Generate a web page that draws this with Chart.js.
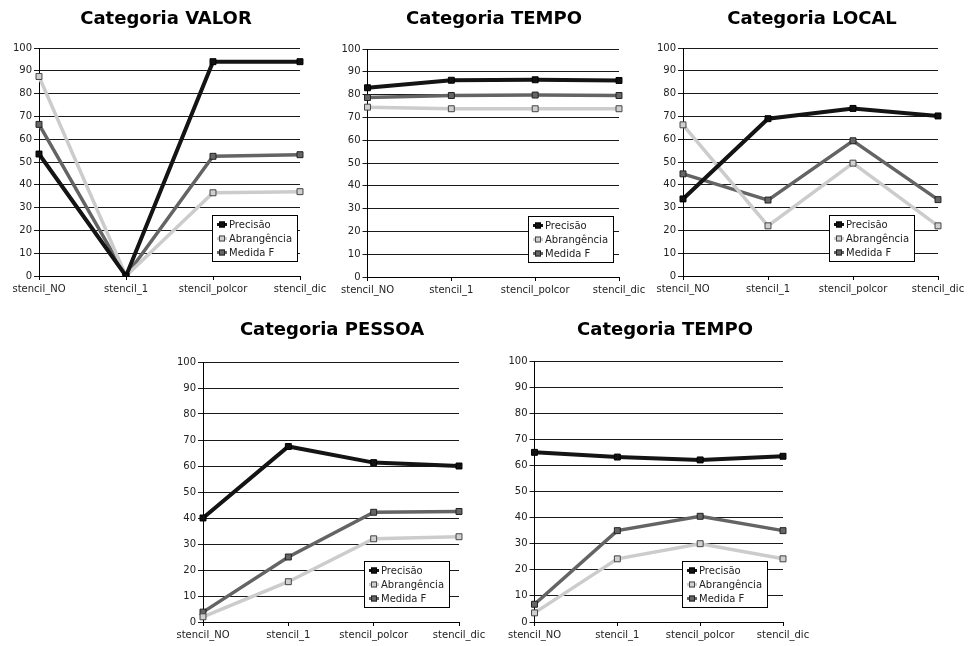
<!DOCTYPE html>
<html><head><meta charset="utf-8">
<script src="https://cdn.jsdelivr.net/npm/chart.js@4"></script>
<style>
html,body{margin:0;padding:0;background:#fff;width:972px;height:646px;overflow:hidden;}
canvas{position:absolute;}
</style></head><body>
<canvas id="c1"></canvas>
<canvas id="c2"></canvas>
<canvas id="c3"></canvas>
<canvas id="c4"></canvas>
<canvas id="c5"></canvas>
<script>
// ---- data ----
const categories = ['stencil_NO', 'stencil_1', 'stencil_polcor', 'stencil_dic'];
const seriesNames = ['Precisão', 'Abrangência', 'Medida F'];
const yMin = 0, yMax = 100, yStep = 10;

const valorPrecisao    = [53.5, 0, 94.0, 94.0];
const valorAbrangencia = [87.5, 0, 36.5, 37.0];
const valorMedidaF     = [66.5, 0, 52.5, 53.2];

const tempo1Precisao    = [83.0, 86.3, 86.5, 86.2];
const tempo1Abrangencia = [74.5, 73.8, 73.8, 73.8];
const tempo1MedidaF     = [78.7, 79.6, 79.8, 79.6];

const localPrecisao    = [33.8, 69.0, 73.5, 70.2];
const localAbrangencia = [66.3, 22.0, 49.5, 22.0];
const localMedidaF     = [44.8, 33.3, 59.3, 33.5];

const pessoaPrecisao    = [40.0, 67.5, 61.3, 60.0];
const pessoaAbrangencia = [2.0, 15.5, 32.0, 32.8];
const pessoaMedidaF     = [3.8, 25.0, 42.2, 42.5];

const tempo2Precisao    = [65.0, 63.2, 62.1, 63.5];
const tempo2Abrangencia = [3.5, 24.2, 30.0, 24.2];
const tempo2MedidaF     = [6.8, 35.0, 40.5, 35.0];

// ---- styles ----
const seriesStyles = [
  {line: '#141414', fill: '#111111', border: '#000000', width: 4},
  {line: '#cccccc', fill: '#d0d0d0', border: '#444444', width: 3.5},
  {line: '#646464', fill: '#666666', border: '#222222', width: 3.5}
];

const panels = [
  {id: 'c1', title: 'Categoria VALOR', data: [valorPrecisao, valorAbrangencia, valorMedidaF],
   left: 0, top: 0, width: 332, height: 300, yW: 39, padR: 32, tTop: 9, tBot: 17.4, xH: 24, legR: 2, tc: 166},
  {id: 'c2', title: 'Categoria TEMPO', data: [tempo1Precisao, tempo1Abrangencia, tempo1MedidaF],
   left: 338, top: 0, width: 312, height: 300, yW: 27, padR: 31, tTop: 9, tBot: 18.4, xH: 23, legR: 5, tc: 494},
  {id: 'c3', title: 'Categoria LOCAL', data: [localPrecisao, localAbrangencia, localMedidaF],
   left: 650, top: 0, width: 322, height: 300, yW: 33, padR: 34, tTop: 9, tBot: 17.4, xH: 24, legR: 23, tc: 812},
  {id: 'c4', title: 'Categoria PESSOA', data: [pessoaPrecisao, pessoaAbrangencia, pessoaMedidaF],
   left: 170, top: 310, width: 324, height: 336, yW: 33, padR: 35, tTop: 10, tBot: 20.4, xH: 24, legR: 9, tc: 332},
  {id: 'c5', title: 'Categoria TEMPO', data: [tempo2Precisao, tempo2Abrangencia, tempo2MedidaF],
   left: 505, top: 310, width: 320, height: 336, yW: 26, padR: 42, tTop: 10, tBot: 19.4, xH: 24, legR: 15, tc: 665}
];

const FONT = '"DejaVu Sans", Verdana, sans-serif';

// shifts the library's title block so that it is centred where the reference has it
const titleShift = {
  id: 'titleShift',
  afterLayout(chart, args, opts) {
    const tb = chart.titleBlock;
    if (!tb) return;
    const dx = opts.center - (tb.left + tb.right) / 2;
    tb.left += dx; tb.right += dx;
  }
};

const boxLegend = {
  id: 'boxLegend',
  afterDatasetsDraw(chart, args, opts) {
    const ctx = chart.ctx, ca = chart.chartArea;
    const w = 86, h = 47;
    const x = Math.round(ca.right - opts.right - w), y = Math.round(ca.bottom - opts.bottom - h);
    ctx.save();
    ctx.fillStyle = '#fff';
    ctx.fillRect(x, y, w, h);
    ctx.strokeStyle = '#000';
    ctx.lineWidth = 1;
    ctx.strokeRect(x + 0.5, y + 0.5, w - 1, h - 1);
    ctx.font = '10px ' + FONT;
    ctx.textBaseline = 'middle';
    chart.data.datasets.forEach((ds, i) => {
      const cy = y + 9.5 + i * 14;
      ctx.strokeStyle = ds.borderColor;
      ctx.lineWidth = 3;
      ctx.beginPath(); ctx.moveTo(x + 5, cy); ctx.lineTo(x + 15, cy); ctx.stroke();
      ctx.fillStyle = ds.pointBackgroundColor;
      ctx.fillRect(x + 7, cy - 3, 6, 6);
      ctx.strokeStyle = ds.pointBorderColor;
      ctx.lineWidth = 1;
      ctx.strokeRect(x + 7.5, cy - 2.5, 5, 5);
      ctx.fillStyle = '#222';
      ctx.fillText(ds.label, x + 17, cy + 0.5);
    });
    ctx.restore();
  }
};

panels.forEach(p => {
  const cv = document.getElementById(p.id);
  cv.width = p.width; cv.height = p.height;
  cv.style.left = p.left + 'px'; cv.style.top = p.top + 'px';
  cv.style.width = p.width + 'px'; cv.style.height = p.height + 'px';
  new Chart(cv, {
    type: 'line',
    data: {
      labels: categories,
      datasets: p.data.map((vals, i) => ({
        label: seriesNames[i],
        data: vals,
        borderColor: seriesStyles[i].line,
        borderWidth: seriesStyles[i].width,
        pointStyle: 'rect',
        pointRadius: 4.2,
        pointBackgroundColor: seriesStyles[i].fill,
        pointBorderColor: seriesStyles[i].border,
        pointBorderWidth: 1,
        tension: 0,
        fill: false
      }))
    },
    options: {
      responsive: false,
      animation: false,
      devicePixelRatio: 1,
      layout: {padding: {left: 0, right: p.padR, top: 0, bottom: 0}},
      plugins: {
        legend: {display: false},
        tooltip: {enabled: false},
        title: {
          display: true, text: p.title, color: '#000',
          font: {family: FONT, size: 18, weight: 'bold', lineHeight: 1.2},
          padding: {top: p.tTop, bottom: p.tBot}
        },
        titleShift: {center: p.tc - p.left},
        boxLegend: {right: p.legR, bottom: 14}
      },
      scales: {
        x: {
          type: 'category',
          offset: false,
          afterFit: s => { s.height = p.xH; },
          grid: {drawOnChartArea: false, drawTicks: true, tickLength: 4, color: '#000'},
          border: {color: '#000', width: 1},
          ticks: {color: '#222', font: {family: FONT, size: 10}, padding: 3, maxRotation: 0, autoSkip: false}
        },
        y: {
          min: yMin, max: yMax,
          afterFit: s => { s.width = p.yW; },
          grid: {color: '#1a1a1a', lineWidth: 1, tickLength: 5},
          border: {color: '#000', width: 1},
          ticks: {stepSize: yStep, color: '#222', font: {family: FONT, size: 10}, padding: 2}
        }
      }
    },
    plugins: [titleShift, boxLegend]
  });
});
</script>
</body></html>
